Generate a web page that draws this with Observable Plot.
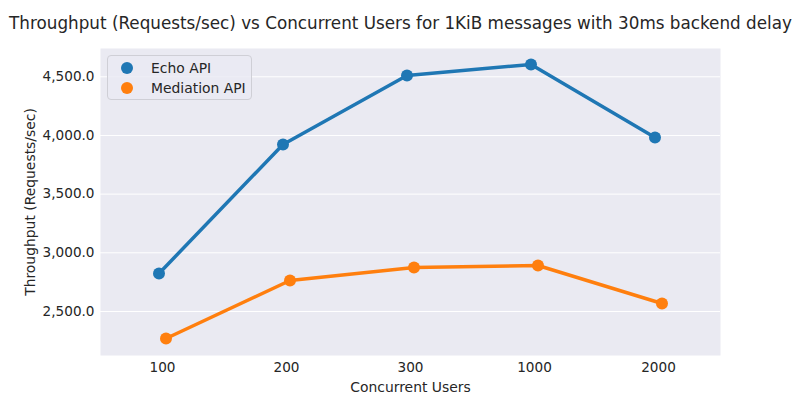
<!DOCTYPE html>
<html>
<head>
<meta charset="utf-8">
<script src="https://cdn.jsdelivr.net/npm/d3@7"></script>
<script src="https://cdn.jsdelivr.net/npm/@observablehq/plot@0.6"></script>
<style>
  body { margin: 0; background: #fff; font-family: "DejaVu Sans", sans-serif; }
  #wrap { position: relative; width: 800px; height: 400px; }
  #legend {
    position: absolute; left: 107px; top: 55px; width: 145px; height: 45px;
    background: rgba(234,234,242,0.8); border: 1px solid #cfcfd6; border-radius: 4px;
    font-size: 13.9px; color: #262626; box-sizing: border-box;
  }
  .item { position: absolute; left: 0; height: 20px; display: flex; align-items: center; }
  .dot { width: 12px; height: 12px; border-radius: 50%; margin-left: 13px; margin-right: 18px; }
</style>
</head>
<body>
<div id="wrap"></div>
<script>
const users = ["100", "200", "300", "1000", "2000"];
const echoApi = [2824, 3923, 4511, 4605, 3983];
const mediationApi = [2270, 2764, 2875, 2892, 2568];
const seriesNames = ["Echo API", "Mediation API"];
const seriesColors = ["#1f77b4", "#ff7f0e"];
const yTicks = [2500, 3000, 3500, 4000, 4500];
const title = "Throughput (Requests/sec) vs Concurrent Users for 1KiB messages with 30ms backend delay";

const echoRows = users.map((u, i) => ({users: u, value: echoApi[i], series: seriesNames[0]}));
const medRows = users.map((u, i) => ({users: u, value: mediationApi[i], series: seriesNames[1]}));

const fmt = d3.format(",.1f");

const chart = Plot.plot({
  width: 800,
  height: 400,
  marginLeft: 100,
  marginRight: 80,
  marginTop: 48,
  marginBottom: 45,
  style: {fontFamily: "DejaVu Sans, sans-serif", fontSize: "13.9px", color: "#262626", background: "#fff"},
  x: {type: "band", domain: users, padding: 0, label: null},
  y: {domain: [2125, 4741], label: null},
  marks: [
    Plot.frame({fill: "#eaeaf2", stroke: null}),
    Plot.gridY(yTicks, {stroke: "#fff", strokeOpacity: 1, strokeWidth: 1}),
    Plot.axisY(yTicks, {tickSize: 0, tickPadding: 6, tickFormat: fmt, fontSize: 13.6, label: null}),
    Plot.axisX({tickSize: 0, tickPadding: 7, fontSize: 13.6, label: null}),
    Plot.line(echoRows, {x: "users", y: "value", stroke: seriesColors[0], strokeWidth: 3.5, dx: -3.5}),
    Plot.dot(echoRows, {x: "users", y: "value", fill: seriesColors[0], r: 6, dx: -3.5}),
    Plot.line(medRows, {x: "users", y: "value", stroke: seriesColors[1], strokeWidth: 3.5, dx: 3.5}),
    Plot.dot(medRows, {x: "users", y: "value", fill: seriesColors[1], r: 6, dx: 3.5}),
    Plot.text([title], {frameAnchor: "top", dy: -31, dx: -10, fontSize: 16.8, fill: "#262626"}),
    Plot.text(["Concurrent Users"], {frameAnchor: "bottom", dy: 36, fontSize: 13.9, fill: "#262626"}),
    Plot.text(["Throughput (Requests/sec)"], {frameAnchor: "left", textAnchor: "middle", dx: -70, rotate: -90, fontSize: 13.9, fill: "#262626"})
  ]
});

const wrap = document.getElementById("wrap");
wrap.appendChild(chart);

const legend = document.createElement("div");
legend.id = "legend";
seriesNames.forEach((name, i) => {
  const item = document.createElement("div");
  item.className = "item";
  item.style.top = (2 + i * 20) + "px";
  const dot = document.createElement("span");
  dot.className = "dot";
  dot.style.background = seriesColors[i];
  const label = document.createElement("span");
  label.textContent = name;
  item.appendChild(dot);
  item.appendChild(label);
  legend.appendChild(item);
});
wrap.appendChild(legend);
</script>
</body>
</html>
